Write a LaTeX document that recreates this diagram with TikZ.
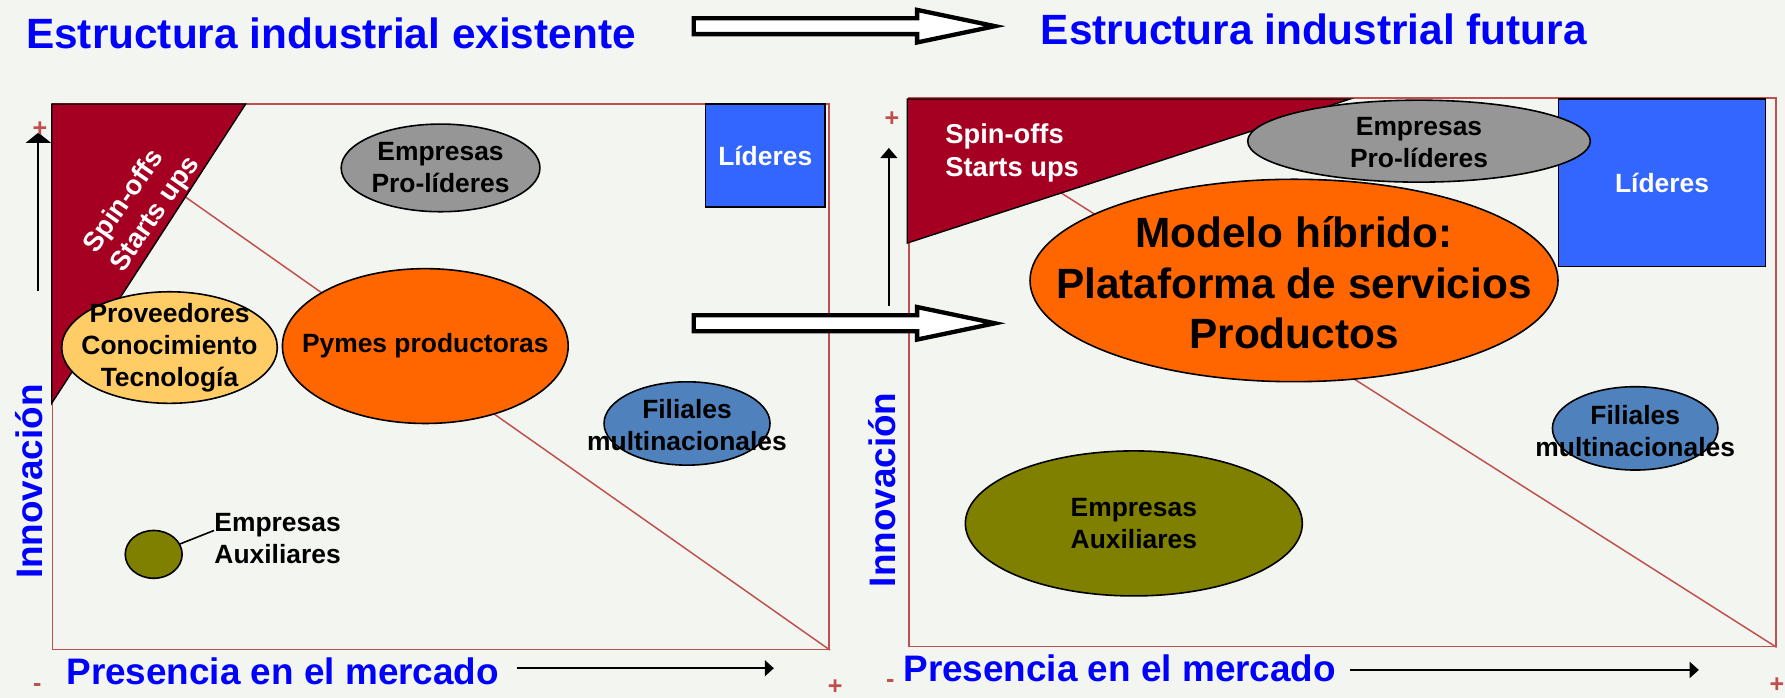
\documentclass[tikz,border=0pt]{standalone}
\usepackage{fontspec}
\setmainfont{Liberation Sans}
\usetikzlibrary{shapes.geometric,arrows.meta}

\definecolor{bgcol}{RGB}{243,245,240}
\definecolor{titleblue}{RGB}{0,0,255}
\definecolor{framered}{RGB}{192,80,77}
\definecolor{spinred}{RGB}{165,0,33}
\definecolor{progray}{RGB}{150,150,150}
\definecolor{lidblue}{RGB}{51,102,255}
\definecolor{provyellow}{RGB}{255,204,102}
\definecolor{pymorange}{RGB}{255,102,0}
\definecolor{filblue}{RGB}{79,129,189}
\definecolor{auxolive}{RGB}{128,128,0}

\begin{document}
\begin{tikzpicture}[x=0.5pt, y=-0.5pt,
    title/.style={text=titleblue, font=\fontsize{18.6}{22}\selectfont\bfseries, inner sep=0pt},
    axislbl/.style={text=titleblue, font=\fontsize{16.2}{18}\selectfont\bfseries, inner sep=0pt},
    frame/.style={draw=framered, line width=0.65pt, inner sep=0pt},
    blob/.style={ellipse, draw=black, line width=0.7pt, inner sep=0pt},
    lidbox/.style={rectangle, draw=black, line width=0.7pt, fill=lidblue, text=white,
        font=\fontsize{11.6}{14}\selectfont\bfseries, inner sep=0pt},
    lbl/.style={font=\fontsize{11.6}{14}\selectfont\bfseries, align=center, inner sep=0pt},
    spin/.style={text=white, font=\fontsize{12}{14.3}\selectfont\bfseries, align=left, inner sep=0pt},
    sign/.style={text=framered, font=\fontsize{11}{11}\selectfont\bfseries, inner sep=0pt},
    axis/.style={line width=0.8pt},
    hollow/.style={draw=black, fill=white, line width=1.9pt}]

    % Canvas
    \useasboundingbox (0,0) rectangle (1568,613);
    \fill[bgcol] (0,0) rectangle (1568,613);

    % Titles
    \node[title, anchor=base west] (t1) at (22.6,42.5) {Estructura industrial existente};
    \node[title, anchor=base west] (t2) at (914,39.5) {Estructura industrial futura};

    % Left: existing structure
    \node[frame, minimum width=341.2pt, minimum height=239.5pt] (fr1) at (387.2,330.9) {};
    \coordinate (d1) at (162.5,172.8);
    \draw[framered, line width=0.65pt] (d1) -- (fr1.south east);
    \draw[fill=spinred, line width=0.6pt] (45.4,91.4) -- (215.8,91.4) -- (45.4,354.3) -- cycle;
    \node[spin, rotate=55] (sp1) at (125,180) {Spin-offs\\Starts ups};

    \node[lidbox, minimum width=52.65pt, minimum height=45.2pt] (lid1) at (672.2,136.8) {Líderes};
    \node[blob, fill=progray, minimum width=87.3pt, minimum height=38.5pt] (pro1) at (387,147.5) {};
    \node[lbl] (pro1t) at (pro1) {Empresas\\Pro-líderes};
    \node[blob, fill=provyellow, minimum width=94.7pt, minimum height=49pt] (prov) at (148.9,305.3) {};
    \node[lbl] (provt) at (prov) {Proveedores\\Conocimiento\\Tecnología};
    \node[blob, fill=pymorange, minimum width=125.5pt, minimum height=68pt] (pym) at (373.6,304) {};
    \node[lbl] (pymt) at (pym) {Pymes productoras};
    \node[blob, fill=filblue, minimum width=72.9pt, minimum height=36.6pt] (fil1) at (603.5,372) {};
    \node[lbl] (fil1t) at (603.5,373.7) {Filiales\\multinacionales};
    \node[blob, fill=auxolive, minimum width=25pt, minimum height=21pt] (aux1) at (135,487) {};
    \node[lbl, anchor=west, align=left] (aux1t) at (188,473) {Empresas\\Auxiliares};
    \draw[line width=0.7pt] (aux1) -- ([yshift=3.5pt]aux1t.west);

    % Left axes
    \node[axislbl, rotate=90] (in1) at (25.3,423) {Innovación};
    \node[axislbl, anchor=base west] (pm1) at (58,601.7) {Presencia en el mercado};
    \coordinate (v1a) at (33.7,256);
    \coordinate (v1b) at (33.7,116.5);
    \draw[axis, -{Triangle[width=11pt,length=4.5pt]}] (v1a) -- (v1b);
    \coordinate (h1a) at (453.9,587);
    \coordinate (h1b) at (679.8,587);
    \draw[axis, -{Triangle[width=7pt,length=4pt]}] (h1a) -- (h1b);
    \node[sign] (p1) at (35,113.5) {+};
    \node[sign] (m1) at (32.8,604) {-};
    \node[sign] (p2) at (733.7,603.5) {+};

    % Right: future structure
    \node[frame, minimum width=380.7pt, minimum height=241pt] (fr2) at (1179.3,327) {};
    \coordinate (d2) at (932.6,169.8);
    \draw[framered, line width=0.65pt] (d2) -- (fr2.south east);
    \draw[fill=spinred, line width=0.6pt] (797,87) -- (1186,87) -- (797,213.5) -- cycle;
    \node[spin, anchor=west] (sp2) at (830,134.5) {Spin-offs\\Starts ups};

    \node[lidbox, minimum width=91pt, minimum height=73.5pt] (lid2) at (1460,160.5) {Líderes};
    \node[blob, fill=progray, minimum width=150.5pt, minimum height=36pt] (pro2) at (1246.5,124) {};
    \node[lbl] (pro2t) at (1246.5,125.2) {Empresas\\Pro-líderes};
    \node[blob, fill=pymorange, minimum width=231.9pt, minimum height=88.9pt] (mod) at (1136.7,246.4) {};
    \node[lbl, font=\fontsize{18.6}{22.3}\selectfont\bfseries] (modt) at (1136.7,248.4)
        {Modelo híbrido:\\Plataforma de servicios\\Productos};
    \node[blob, fill=auxolive, minimum width=148pt, minimum height=63.7pt] (aux2) at (996,459.8) {};
    \node[lbl] (aux2t) at (aux2) {Empresas\\Auxiliares};
    \node[blob, fill=filblue, minimum width=72.7pt, minimum height=36.6pt] (fil2) at (1436.4,376.3) {};
    \node[lbl] (fil2t) at (1436.4,378.5) {Filiales\\multinacionales};

    % Right axes
    \node[axislbl, rotate=90] (in2) at (775.3,430.3) {Innovación};
    \node[axislbl, anchor=base west] (pm2) at (793.2,598.8) {Presencia en el mercado};
    \coordinate (v2a) at (780.8,268.8);
    \coordinate (v2b) at (780.8,130);
    \draw[axis, -{Triangle[width=7.5pt,length=4.5pt]}] (v2a) -- (v2b);
    \coordinate (h2a) at (1186.2,588.5);
    \coordinate (h2b) at (1492.3,588.5);
    \draw[axis, -{Triangle[width=7pt,length=4pt]}] (h2a) -- (h2b);
    \node[sign] (p3) at (783.6,104.5) {+};
    \node[sign] (m2) at (782,600) {-};
    \node[sign] (p4) at (1561,602) {+};

    % Transition arrows
    \foreach \cy in {23,284} {
        \draw[hollow] (609.4,\cy-7) -- (805.6,\cy-7) -- (805.6,\cy-14.3) -- (874,\cy)
            -- (805.6,\cy+14.3) -- (805.6,\cy+7) -- (609.4,\cy+7) -- cycle;
    }

\end{tikzpicture}
\end{document}
